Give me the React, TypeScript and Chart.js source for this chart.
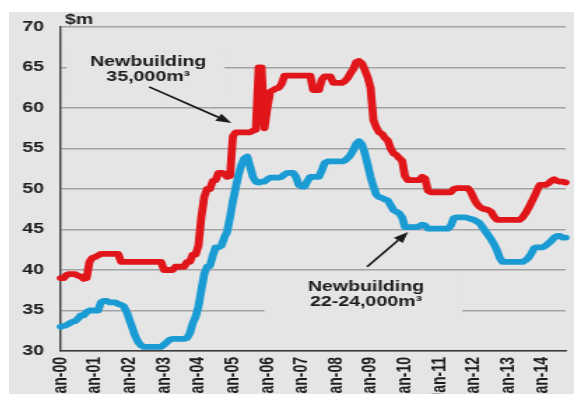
import React, { useEffect, useRef } from 'react';
import { Chart, registerables } from 'chart.js';

Chart.register(...registerables);

// ---------- data ----------
const YEARS = ['00', '01', '02', '03', '04', '05', '06', '07', '08', '09', '10', '11', '12', '13', '14'];
const MONTHS = ['Jan', 'Feb', 'Mar', 'Apr', 'May', 'Jun', 'Jul', 'Aug', 'Sep', 'Oct', 'Nov', 'Dec'];
const LAST_MONTH = 'Sep-14';

const ALL_MONTHS: string[] = [];
YEARS.forEach((y) => MONTHS.forEach((m) => ALL_MONTHS.push(`${m}-${y}`)));
const CATEGORIES = ALL_MONTHS.slice(0, ALL_MONTHS.indexOf(LAST_MONTH) + 1);

const TICK_LABELS = ['Jan-00', 'Jan-01', 'Jan-02', 'Jan-03', 'Jan-04', 'Jan-05', 'Jan-06', 'Jan-07', 'Jan-08', 'Jan-09', 'Jan-10', 'Jan-11', 'Jan-12', 'Jan-13', 'Jan-14'];
const Y_TICKS = [30, 35, 40, 45, 50, 55, 60, 65, 70];

// Newbuilding 35,000m3 ($m)
const RED_35K = [
  39, 39, 39.4, 39.5, 39.5, 39.5, 39.3, 39.2, 38.9, 39,
  41, 41.5, 41.6, 41.8, 42, 42, 42, 42, 42, 42,
  42, 41, 41, 41, 41, 41, 41, 41, 41, 41,
  41, 41, 41, 41, 41, 41, 40, 40, 40, 40,
  40.4, 40.4, 40.4, 40.4, 41, 41, 41.9, 41.9, 43, 46.5,
  49, 50, 50, 51, 51.1, 52, 52, 51.9, 51.5, 51.6,
  56.5, 57, 57, 57, 57, 57, 57, 57.2, 57.3, 65,
  65, 57.5, 60, 62, 62.2, 62.4, 62.5, 63, 64, 64,
  64, 64, 64, 64, 64, 64, 64, 64, 62.2, 62.2,
  62.2, 63.5, 63.9, 63.9, 63.9, 63.1, 63.1, 63.1, 63.1, 63.3,
  63.7, 64.3, 64.8, 65.7, 65.8, 65.5, 64.7, 63.8, 62.5, 58.5,
  57.6, 57, 56.8, 56.3, 56, 55, 54.4, 54.2, 53.8, 53.5,
  51.6, 51.1, 51.1, 51.1, 51.1, 51.1, 51.5, 51.3, 49.8, 49.6,
  49.6, 49.6, 49.6, 49.6, 49.6, 49.6, 49.6, 50, 50.1, 50.1,
  50.1, 50.1, 50.1, 49.6, 48.8, 48.2, 47.8, 47.6, 47.5, 47.4,
  47.2, 46.6, 46.2, 46.2, 46.2, 46.2, 46.2, 46.2, 46.2, 46.2,
  46.2, 46.5, 47, 47.6, 48.3, 49, 49.8, 50.5, 50.5, 50.5,
  50.7, 51, 51.2, 51, 50.9, 50.9, 50.8,
];

// Newbuilding 22-24,000m3 ($m)
const BLUE_22K = [
  33, 33.1, 33.2, 33.4, 33.6, 33.7, 34, 34.4, 34.4, 34.8,
  35, 35, 35, 35, 36, 36.2, 36.2, 36, 36, 36,
  35.8, 35.7, 35.5, 34.8, 33.8, 32.8, 31.8, 31.1, 30.7, 30.5,
  30.5, 30.5, 30.5, 30.5, 30.5, 30.5, 30.8, 31.1, 31.4, 31.5,
  31.5, 31.5, 31.5, 31.5, 31.6, 32.2, 33.4, 34.2, 35.5, 37.5,
  39.5, 40.4, 40.5, 41.8, 42.8, 42.8, 43, 44, 44.7, 46.5,
  48.5, 50.2, 51.8, 53, 53.8, 54, 52.8, 51.5, 50.9, 50.8,
  50.9, 50.9, 51.2, 51.4, 51.4, 51.4, 51.4, 51.5, 51.8, 52,
  52, 52, 51.5, 50.5, 50.3, 50.3, 51, 51.5, 51.5, 51.5,
  51.5, 52.3, 53.2, 53.4, 53.4, 53.4, 53.4, 53.4, 53.4, 53.5,
  53.8, 54.2, 54.8, 55.6, 55.9, 55.5, 54.4, 53, 51.5, 50.3,
  49.3, 49, 48.9, 48.7, 48.6, 48, 47.4, 47.2, 47, 46.5,
  45.3, 45.3, 45.3, 45.3, 45.3, 45.4, 45.6, 45.5, 45.1, 45.1,
  45.1, 45.1, 45.1, 45.1, 45.1, 45.1, 45.5, 46.4, 46.5, 46.5,
  46.5, 46.5, 46.4, 46.3, 46.2, 46, 45.8, 45.3, 44.8, 44.3,
  43.8, 43.2, 42.5, 41.5, 41, 41, 41, 41, 41, 41,
  41, 41, 41.2, 41.5, 42, 42.7, 42.8, 42.8, 42.8, 43,
  43.3, 43.6, 44, 44.2, 44.2, 44, 44,
];

const SERIES_NAMES = ['Newbuilding 35,000m³', 'Newbuilding 22-24,000m³'];
const UNIT_LABEL = '$m';

// callout texts, anchored in data units (category index, $m)
const NOTES = [
  {
    lines: ['Newbuilding', '35,000m³'],
    at: [30.5, 64.75],
    box: [2, 57, 62.3, 67.2],
    arrowFrom: [30.8, 62.6],
    arrowTo: [59.5, 58.15],
  },
  {
    lines: ['Newbuilding', '22-24,000m³'],
    at: [106.4, 36.95],
    box: [71, 140, 34.1, 39.3],
    arrowFrom: [106.8, 40.4],
    arrowTo: [121.1, 44.7],
  },
];

// ---------- styles ----------
const BG = '#e5e5e5';
const RED = '#e0161b';
const BLUE = '#1b9bd3';
const TEXT = '#1c1c1c';
const FONT_FAMILY = '"Liberation Sans", Arial, Helvetica, sans-serif';
const CANVAS_W = 404;
const CANVAS_H = 400;
const VIEW_W = 565;
const VIEW_H = 382;
const AREA_TOP = 15;
const AREA_BOTTOM = 339;
const AREA_LEFT = 37;
const AREA_RIGHT = 398;

function drawArrow(ctx: CanvasRenderingContext2D, x0: number, y0: number, x1: number, y1: number) {
  const ang = Math.atan2(y1 - y0, x1 - x0);
  const head = 11;
  const half = 4.2;
  const bx = x1 - head * Math.cos(ang);
  const by = y1 - head * Math.sin(ang);
  ctx.beginPath();
  ctx.moveTo(x0, y0);
  ctx.lineTo(bx, by);
  ctx.stroke();
  ctx.beginPath();
  ctx.moveTo(x1, y1);
  ctx.lineTo(bx + half * Math.sin(ang), by - half * Math.cos(ang));
  ctx.lineTo(bx - half * Math.sin(ang), by + half * Math.cos(ang));
  ctx.closePath();
  ctx.fill();
}

const notesPlugin = {
  id: 'notes',
  beforeDatasetsDraw(chart: any) {
    const { ctx, chartArea, scales } = chart;
    const xs = scales.x;
    const ys = scales.y;
    ctx.save();
    ctx.fillStyle = BG;
    NOTES.forEach((n) => {
      const x0 = xs.getPixelForValue(n.box[0]);
      const x1 = xs.getPixelForValue(n.box[1]);
      const y0 = ys.getPixelForValue(n.box[2]);
      const y1 = ys.getPixelForValue(n.box[3]);
      ctx.fillRect(Math.min(x0, x1), Math.min(y0, y1), Math.abs(x1 - x0), Math.abs(y1 - y0));
    });
    ctx.fillStyle = TEXT;
    ctx.font = `bold 14px ${FONT_FAMILY}`;
    ctx.textAlign = 'left';
    ctx.textBaseline = 'alphabetic';
    ctx.fillText(UNIT_LABEL, chartArea.left + 3, chartArea.top - 3);
    ctx.restore();
  },
  afterDatasetsDraw(chart: any) {
    const { ctx, scales } = chart;
    const xs = scales.x;
    const ys = scales.y;
    ctx.save();
    ctx.fillStyle = TEXT;
    ctx.strokeStyle = '#111';
    ctx.lineWidth = 1.6;
    ctx.font = `bold 14px ${FONT_FAMILY}`;
    ctx.textAlign = 'center';
    ctx.textBaseline = 'middle';
    const lh = 15;
    NOTES.forEach((n) => {
      const cx = xs.getPixelForValue(n.at[0]);
      const cy = ys.getPixelForValue(n.at[1]);
      n.lines.forEach((t, i) => {
        ctx.fillText(t, cx, cy + (i - (n.lines.length - 1) / 2) * lh);
      });
      drawArrow(
        ctx,
        xs.getPixelForValue(n.arrowFrom[0]),
        ys.getPixelForValue(n.arrowFrom[1]),
        xs.getPixelForValue(n.arrowTo[0]),
        ys.getPixelForValue(n.arrowTo[1]),
      );
    });
    ctx.restore();
  },
};

function zeroPadding(scale: any) {
  scale.paddingLeft = 0;
  scale.paddingRight = 0;
  scale.paddingTop = 0;
  scale.paddingBottom = 0;
}

export default function App() {
  const canvasRef = useRef<HTMLCanvasElement | null>(null);

  useEffect(() => {
    const canvas = canvasRef.current;
    if (!canvas) return;
    const chart = new Chart(canvas, {
      type: 'line',
      data: {
        labels: CATEGORIES,
        datasets: [
          {
            label: SERIES_NAMES[0],
            data: RED_35K,
            borderColor: RED,
            backgroundColor: RED,
            borderWidth: 5.8,
            pointRadius: 0,
            tension: 0,
            borderJoinStyle: 'round',
            borderCapStyle: 'round',
          },
          {
            label: SERIES_NAMES[1],
            data: BLUE_22K,
            borderColor: BLUE,
            backgroundColor: BLUE,
            borderWidth: 5.8,
            pointRadius: 0,
            tension: 0,
            borderJoinStyle: 'round',
            borderCapStyle: 'round',
          },
        ],
      },
      options: {
        responsive: false,
        maintainAspectRatio: false,
        devicePixelRatio: 1,
        animation: false,
        layout: {
          padding: {
            left: 0,
            right: CANVAS_W - AREA_RIGHT,
            top: AREA_TOP,
            bottom: 0,
          },
        },
        plugins: {
          legend: { display: false },
          tooltip: { enabled: false },
          title: { display: false },
        },
        scales: {
          x: {
            type: 'category',
            offset: false,
            grid: { display: false, drawTicks: false },
            border: { display: true, color: '#3a3a3a', width: 1.4 },
            afterFit: (scale: any) => {
              scale.height = CANVAS_H - AREA_BOTTOM;
              zeroPadding(scale);
            },
            ticks: {
              autoSkip: false,
              maxRotation: 90,
              minRotation: 90,
              padding: 6,
              color: TEXT,
              font: { family: FONT_FAMILY, size: 14, weight: 'bold' },
              callback: (_v: any, i: number) => (TICK_LABELS.includes(CATEGORIES[i]) ? CATEGORIES[i] : ''),
            },
          },
          y: {
            min: Y_TICKS[0],
            max: Y_TICKS[Y_TICKS.length - 1],
            afterFit: (scale: any) => {
              scale.width = AREA_LEFT;
              zeroPadding(scale);
            },
            afterBuildTicks: (scale: any) => {
              scale.ticks = Y_TICKS.map((v) => ({ value: v }));
            },
            grid: { color: '#a3a3a3', lineWidth: 1.4, drawTicks: false },
            border: { display: true, color: '#3a3a3a', width: 1.4 },
            ticks: {
              padding: 12,
              color: TEXT,
              font: { family: FONT_FAMILY, size: 14, weight: 'bold' },
            },
          },
        },
      },
      plugins: [notesPlugin],
    });
    return () => chart.destroy();
  }, []);

  return (
    <div
      style={{
        position: 'fixed',
        left: 9,
        top: 12,
        width: VIEW_W,
        height: VIEW_H,
        overflow: 'hidden',
        background: BG,
      }}
    >
      <canvas
        ref={canvasRef}
        width={CANVAS_W}
        height={CANVAS_H}
        style={{ width: `${VIEW_W}px`, height: `${CANVAS_H}px`, display: 'block' }}
      />
    </div>
  );
}
